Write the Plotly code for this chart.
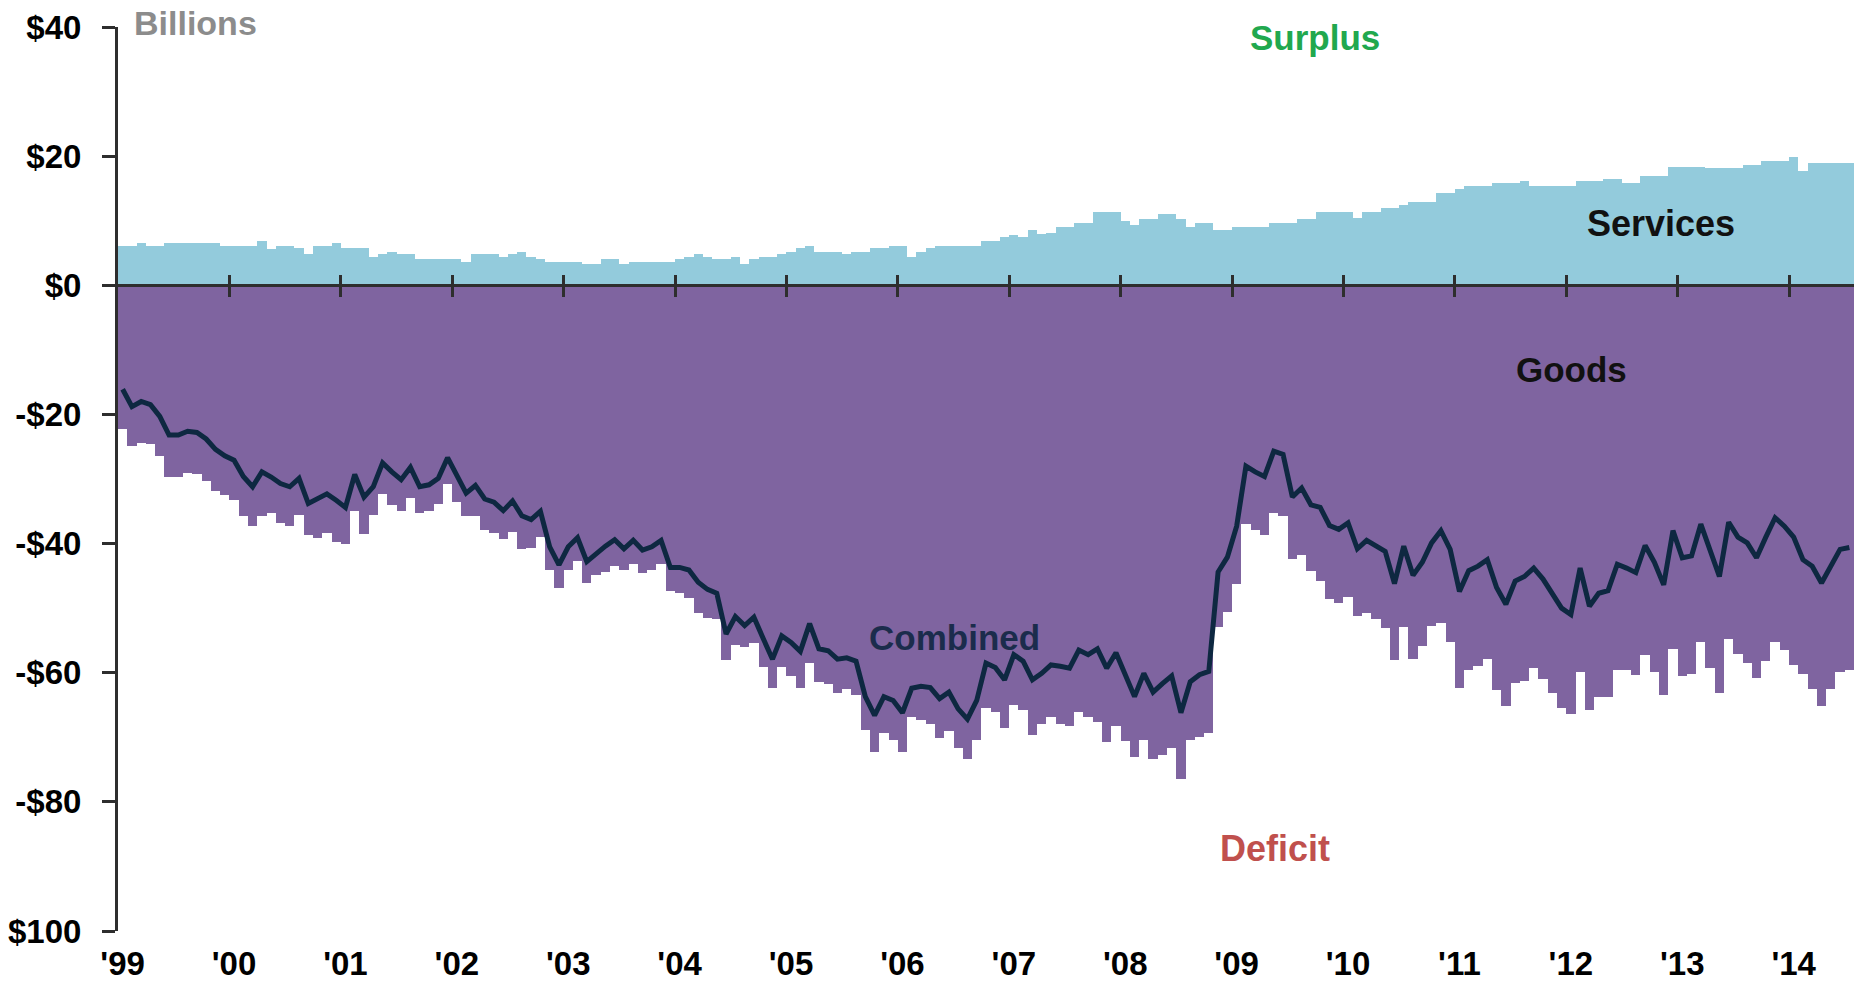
import plotly.graph_objects as go

# ---------------- data (billions of dollars, monthly, Jan 1999 - Jul 2014) ----------------
year_labels = ["'99", "'00", "'01", "'02", "'03", "'04", "'05", "'06",
               "'07", "'08", "'09", "'10", "'11", "'12", "'13", "'14"]

y_tick_values = [40, 20, 0, -20, -40, -60, -80, -100]
y_tick_labels = ["$40", "$20", "$0", "-$20", "-$40", "-$60", "-$80", "-$100"]

services = [
    6.1, 6.1, 6.5, 6.1, 6.1, 6.5, 6.5, 6.5, 6.5, 6.5, 6.5, 6.1,
    6.1, 6.1, 6.1, 6.9, 5.6, 6.1, 6.1, 5.7, 4.8, 6.1, 6.1, 6.5,
    5.7, 5.7, 5.7, 4.4, 4.8, 5.2, 4.8, 4.8, 4.0, 4.0, 4.0, 4.0,
    4.0, 3.6, 4.8, 4.8, 4.8, 4.4, 4.8, 5.2, 4.4, 4.0, 3.6, 3.6,
    3.6, 3.6, 3.3, 3.3, 4.0, 4.0, 3.3, 3.6, 3.6, 3.6, 3.6, 3.6,
    4.0, 4.4, 4.8, 4.4, 4.0, 4.0, 4.4, 3.3, 4.0, 4.4, 4.4, 4.8,
    5.2, 5.7, 6.1, 5.2, 5.2, 5.2, 4.8, 5.2, 5.2, 5.7, 5.7, 6.1,
    6.1, 4.4, 5.2, 5.7, 6.1, 6.1, 6.1, 6.1, 6.1, 6.9, 6.9, 7.5,
    7.8, 7.5, 8.5, 7.9, 8.1, 9.0, 9.0, 9.6, 9.6, 11.4, 11.4, 11.4,
    10.0, 9.3, 10.3, 10.3, 11.1, 11.1, 10.3, 9.0, 9.6, 9.6, 8.5, 8.5,
    9.0, 9.0, 9.0, 9.0, 9.6, 9.6, 9.6, 10.3, 10.3, 11.4, 11.4, 11.4,
    11.4, 10.4, 11.3, 11.3, 11.9, 11.9, 12.5, 12.9, 12.9, 12.9, 14.3, 14.3,
    14.9, 15.4, 15.4, 15.4, 15.8, 15.8, 15.8, 16.2, 15.4, 15.4, 15.4, 15.4,
    15.4, 16.1, 16.1, 16.1, 16.4, 16.4, 15.8, 15.8, 17.0, 17.0, 17.0, 18.3,
    18.3, 18.3, 18.3, 18.1, 18.1, 18.1, 18.1, 18.6, 18.6, 19.2, 19.2, 19.2,
    19.8, 17.7, 19.0, 19.0, 19.0, 19.0, 19.0,
]

combined = [
    -16.1, -18.8, -18.0, -18.5, -20.3, -23.2, -23.2, -22.6, -22.8, -23.8, -25.4, -26.4,
    -27.1, -29.6, -31.2, -28.9, -29.7, -30.7, -31.2, -29.9, -33.8, -33.1, -32.3, -33.3,
    -34.4, -29.3, -32.8, -31.2, -27.5, -28.9, -30.1, -28.2, -31.2, -30.9, -29.9, -26.7,
    -29.6, -32.2, -31.0, -33.1, -33.6, -34.9, -33.4, -35.7, -36.3, -35.0, -40.5, -43.3,
    -40.5, -39.1, -42.8, -41.5, -40.4, -39.4, -40.8, -39.5, -41.0, -40.5, -39.5, -43.7,
    -43.7, -44.1, -46.0, -47.1, -47.7, -54.0, -51.3, -52.7, -51.4, -54.7, -57.9, -54.3,
    -55.3, -56.7, -52.4, -56.3, -56.6, -57.9, -57.7, -58.2, -63.7, -66.6, -63.7, -64.3,
    -66.2, -62.4, -62.1, -62.3, -64.0, -63.0, -65.6, -67.2, -64.3, -58.5, -59.2, -61.1,
    -57.2, -58.2, -61.1, -60.1, -58.8, -59.0, -59.3, -56.5, -57.2, -56.3, -59.3, -56.9,
    -60.5, -63.7, -60.1, -63.0, -61.7, -60.5, -66.2, -61.4, -60.3, -59.8, -44.4, -42.1,
    -37.3, -28.0, -28.9, -29.6, -25.7, -26.2, -32.8, -31.4, -34.0, -34.4, -37.2, -37.8,
    -36.8, -40.8, -39.5, -40.4, -41.2, -46.2, -40.4, -44.9, -42.9, -39.9, -38.0, -40.9,
    -47.4, -44.2, -43.5, -42.5, -46.8, -49.4, -45.8, -45.1, -43.8, -45.5, -47.7, -50.0,
    -51.0, -43.8, -49.7, -47.7, -47.3, -43.2, -43.8, -44.5, -40.3, -42.9, -46.4, -38.0,
    -42.2, -41.9, -37.0, -41.2, -45.1, -36.7, -39.0, -39.9, -42.2, -39.0, -36.0, -37.3,
    -39.0, -42.5, -43.5, -46.1, -43.5, -40.9, -40.6,
]

# goods balance = combined balance minus services balance
goods = [round(c - s, 1) for c, s in zip(combined, services)]

# ---------------- styling ----------------
N = len(services)
x_mid = [m + 0.5 for m in range(N)]          # month centres (month index units)
year_starts = [12 * k for k in range(len(year_labels))]
Y_MIN, Y_MAX = -100, 40
zero_pos = (0 - Y_MIN) / (Y_MAX - Y_MIN)


def paper_y(v):
    return (v - Y_MIN) / (Y_MAX - Y_MIN)


C_SERV = "#93CBDC"
C_GOODS = "#7F64A0"
C_LINE = "#0E2841"
C_AXIS = "#2E2E2E"
FONT = "Arial, Liberation Sans, sans-serif"

fig = go.Figure()
# goods on the main x axis (bottom labels)
fig.add_bar(x=x_mid, y=goods, width=1, name="Goods", xaxis="x",
            marker=dict(color=C_GOODS, line=dict(width=0)))
# services on overlay axis x2 (upward ticks at zero)
fig.add_bar(x=x_mid, y=services, width=1, name="Services", xaxis="x2",
            marker=dict(color=C_SERV, line=dict(width=0)))
# combined line on overlay axis x3 (zero line + downward ticks)
fig.add_scatter(x=x_mid, y=combined, mode="lines", name="Combined", xaxis="x3",
                line=dict(color=C_LINE, width=5))

tick_font = dict(family=FONT, size=33, color="#000000", weight="bold")

fig.update_layout(
    width=1846, height=976,
    margin=dict(l=110, r=0, t=19, b=53, autoexpand=False),
    barmode="relative", bargap=0, showlegend=False,
    plot_bgcolor="white", paper_bgcolor="white",
    xaxis=dict(range=[0, N], tickmode="array", automargin=False,
               tickvals=[v + 0.5 for v in year_starts], ticktext=year_labels,
               ticks="", showline=False, showgrid=False, zeroline=False,
               tickfont=tick_font, ticklabelstandoff=10),
    xaxis2=dict(overlaying="x", anchor="free", position=zero_pos, side="top",
                range=[0, N], tickmode="array", tickvals=year_starts[1:], automargin=False,
                ticks="outside", ticklen=10, tickwidth=3, tickcolor=C_AXIS,
                showticklabels=False, showline=False, showgrid=False, zeroline=False),
    xaxis3=dict(overlaying="x", anchor="free", position=zero_pos, side="bottom",
                range=[0, N], tickmode="array", tickvals=year_starts[1:], automargin=False,
                ticks="outside", ticklen=10, tickwidth=3, tickcolor=C_AXIS,
                showticklabels=False, showline=True, linecolor=C_AXIS, linewidth=3,
                showgrid=False, zeroline=False),
    yaxis=dict(range=[Y_MIN, Y_MAX], tickmode="array", automargin=False,
               tickvals=y_tick_values, ticktext=y_tick_labels,
               ticks="outside", ticklen=13, tickwidth=3, tickcolor=C_AXIS,
               showline=True, linecolor=C_AXIS, linewidth=3,
               showgrid=False, zeroline=False, tickfont=tick_font,
               ticklabelstandoff=14),
)


def label(text, x, y, color, xanchor="center", yref="y", size=35):
    fig.add_annotation(text=text, x=x, y=y, xref="x", yref=yref, showarrow=False,
                       xanchor=xanchor, yanchor="middle",
                       font=dict(family=FONT, size=size, color=color, weight="bold"))


label("Billions", 1.5, paper_y(40.6), "#8C8C8C", xanchor="left", yref="paper", size=34)
label("Surplus", 128.9, 38.3, "#21A84E")
label("Services", 166.2, 9.6, "#111111", size=36)
label("Goods", 156.6, -13.0, "#111111")
label("Combined", 90.1, -54.6, "#1B2C4C")
label("Deficit", 124.6, -87.3, "#C0504D", size=36)

fig.write_html("out.html")
